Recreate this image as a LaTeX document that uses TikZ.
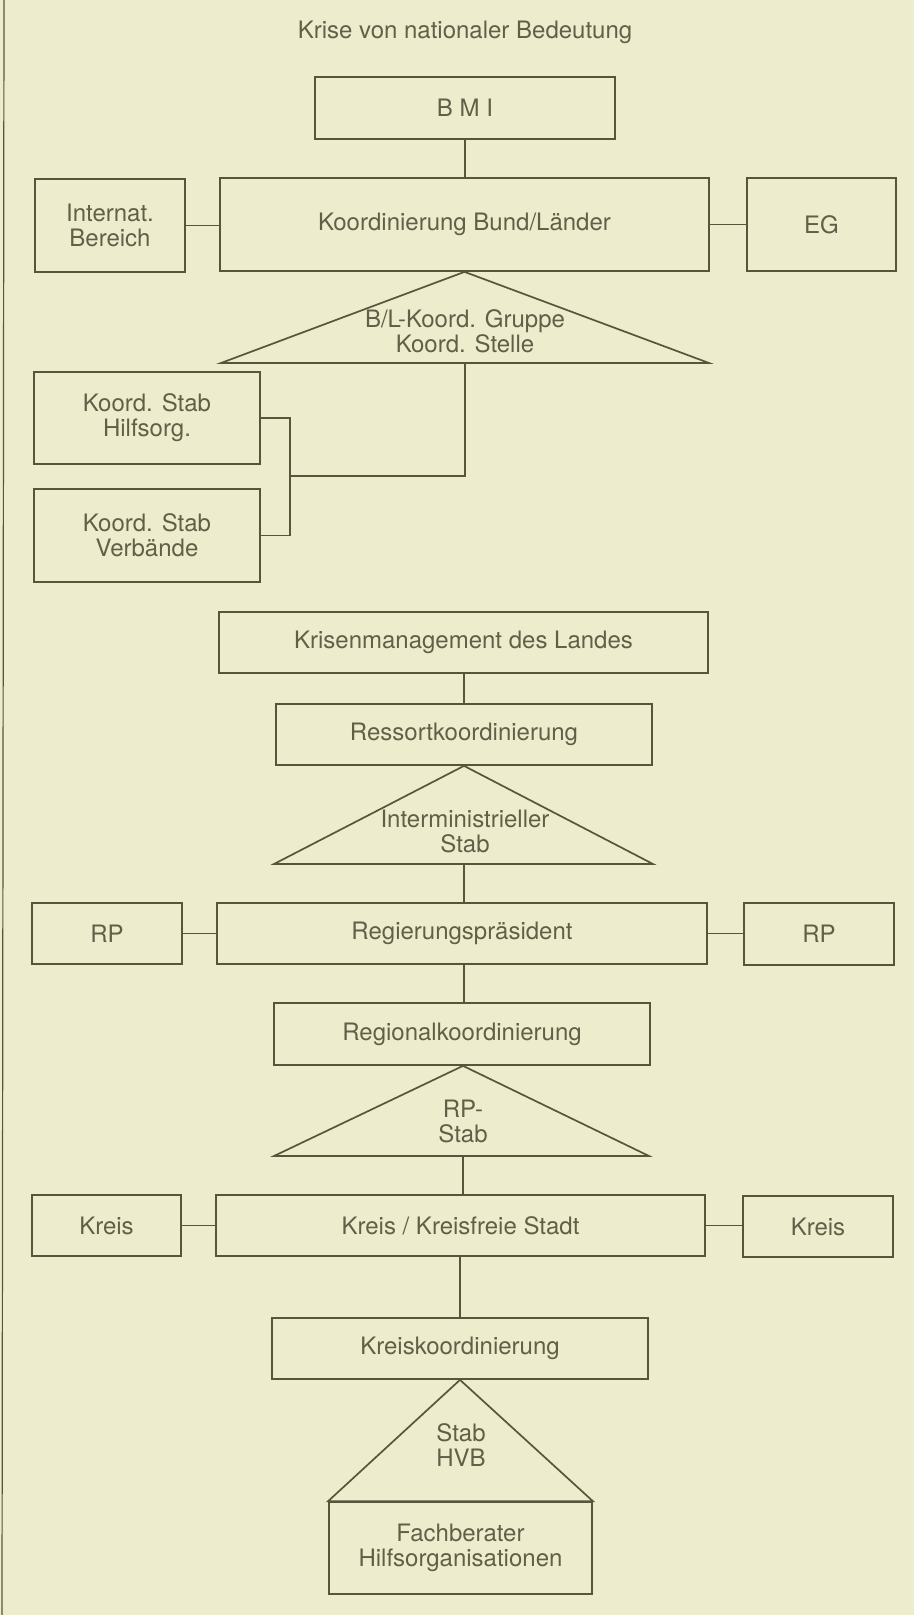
\documentclass[tikz,border=0pt]{standalone}
\usepackage{fontspec}
\setmainfont{TeX Gyre Heros}
\definecolor{bgc}{RGB}{237,236,204}
\definecolor{lnc}{RGB}{86,86,60}
\definecolor{txc}{RGB}{96,96,72}
\newcommand\dfs{\fontsize{24}{25}\selectfont}
\tikzset{
  box/.style n args={2}{draw=lnc, line width=1.7pt, minimum width=#1, minimum height=#2,
    inner sep=0pt, align=center, text=txc, font=\dfs},
  lbl/.style={inner sep=0pt, align=center, text=txc, font=\dfs},
  conn/.style={draw=lnc, line width=1.7pt},
}
\begin{document}
\begin{tikzpicture}[x=1pt,y=-1pt]
\fill[bgc] (0,0) rectangle (914,1615);
\useasboundingbox (0,0) rectangle (914,1615);
\draw[lnc, line width=1.2pt] (4,0) -- (2,1615);

\node[lbl] (title) at (465,32) {Krise von nationaler Bedeutung};

% Bund
\node[box={300pt}{62pt}] (bmi) at (465,108) {B M I};
\node[box={489pt}{93pt}] (kbl) at (464.5,224.5) {Koordinierung Bund/Länder};
\node[box={150pt}{93pt}] (intl) at (110,225.5) {Internat.\\Bereich};
\node[box={149pt}{93pt}] (eg) at (821.5,224.5) {EG};
\draw[conn] (bmi.south) -- (bmi.south |- kbl.north);
\draw[conn] (intl.east) -- (intl.east -| kbl.west);
\draw[conn] (kbl.east) -- (kbl.east -| eg.west);

\coordinate (t1l) at (221,363);
\coordinate (t1r) at (709,363);
\coordinate (t1b) at (465,363);
\draw[conn, line join=miter] (kbl.south) -- (t1r) -- (t1l) -- cycle;
\node[lbl] (t1) at (465,331) {B/L-Koord. Gruppe\\Koord. Stelle};

\node[box={226pt}{92pt}] (hilf) at (147,418) {Koord. Stab\\Hilfsorg.};
\node[box={226pt}{93pt}] (verb) at (147,535.5) {Koord. Stab\\Verbände};
\coordinate (brk) at (290,476);
\draw[conn] (t1b) |- (brk);
\draw[conn] (hilf.east) -| (brk);
\draw[conn] (verb.east) -| (brk);

% Land
\node[box={489pt}{61pt}] (kml) at (463.5,642.5) {Krisenmanagement des Landes};
\node[box={376pt}{61pt}] (rk) at (464,734.5) {Ressortkoordinierung};
\draw[conn] (rk.north |- kml.south) -- (rk.north);
\coordinate (t2l) at (274,864);
\coordinate (t2r) at (653,864);
\coordinate (t2b) at (464,864);
\draw[conn, line join=miter] (rk.south) -- (t2r) -- (t2l) -- cycle;
\node[lbl] (t2) at (465,831) {Interministrieller\\Stab};

% Regierungsbezirk
\node[box={490pt}{61pt}] (rp) at (462,933.5) {Regierungspräsident};
\node[box={150pt}{61pt}] (rpl) at (107,933.5) {RP};
\node[box={150pt}{62pt}] (rpr) at (819,934) {RP};
\draw[conn] (t2b) -- (t2b |- rp.north);
\draw[conn] (rpl.east) -- (rpl.east -| rp.west);
\draw[conn] (rp.east) -- (rp.east -| rpr.west);

\node[box={376pt}{62pt}] (regk) at (462,1034) {Regionalkoordinierung};
\draw[conn] (t2b |- rp.south) -- (t2b |- regk.north);
\coordinate (t3l) at (274,1156);
\coordinate (t3r) at (649,1156);
\coordinate (t3b) at (463,1156);
\draw[conn, line join=miter] (t3b |- regk.south) -- (t3r) -- (t3l) -- cycle;
\node[lbl] (t3) at (463,1121) {RP-\\Stab};

% Kreis
\node[box={489pt}{61pt}] (kreis) at (460.5,1225.5) {Kreis / Kreisfreie Stadt};
\node[box={149pt}{61pt}] (kl) at (106.5,1225.5) {Kreis};
\node[box={150pt}{61pt}] (kr) at (818,1226.5) {Kreis};
\draw[conn] (t3b) -- (t3b |- kreis.north);
\draw[conn] (kl.east) -- (kl.east -| kreis.west);
\draw[conn] (kreis.east) -- (kreis.east -| kr.west);

\node[box={376pt}{61pt}] (kk) at (460,1348.5) {Kreiskoordinierung};
\draw[conn] (kk.north |- kreis.south) -- (kk.north);
\node[box={263pt}{92pt}] (fach) at (460.5,1548) {Fachberater\\Hilfsorganisationen};
\draw[conn, line join=miter] (kk.south) -- (fach.north east) -- (fach.north west) -- cycle;
\node[lbl] (t4) at (461,1445) {Stab\\HVB};
\end{tikzpicture}
\end{document}
